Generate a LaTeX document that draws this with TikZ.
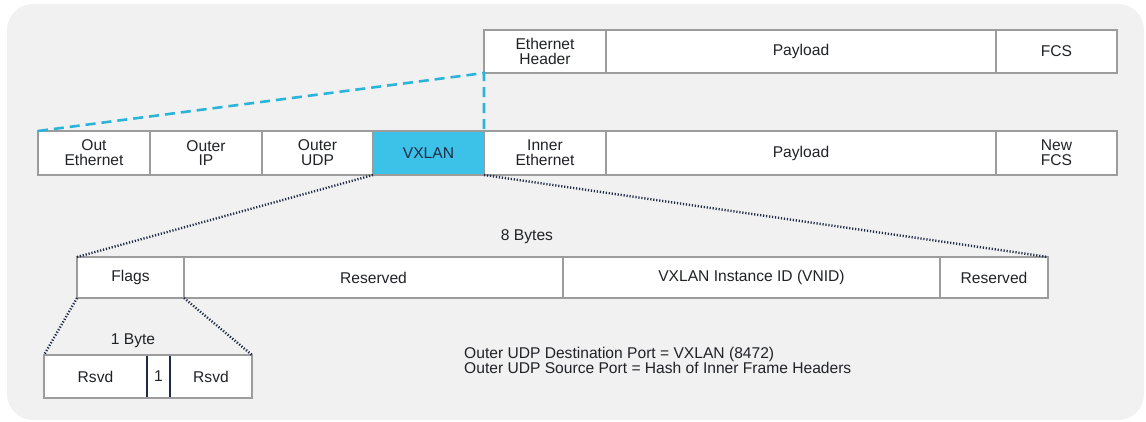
\documentclass[tikz,border=0pt]{standalone}
\usepackage{fontspec}
\setmainfont{Liberation Sans}
\definecolor{bgc}{HTML}{F1F1F1}
\definecolor{edgec}{HTML}{9C9C9C}
\definecolor{cyanc}{HTML}{3CC2E8}
\definecolor{dashc}{HTML}{2BB4DA}
\definecolor{navyc}{HTML}{1E2B45}
\definecolor{txtc}{HTML}{202226}
\begin{document}
\begin{tikzpicture}[x=1pt,y=-1pt,
  field/.style={draw=edgec, line width=2.8pt, fill=white, inner sep=0pt, outer sep=0pt,
    align=center, text=txtc, font=\fontsize{15.6}{14.8}\selectfont},
  hl/.style={field, fill=cyanc, text=navyc},
  lbl/.style={inner sep=0pt, text=txtc, font=\fontsize{15.6}{15}\selectfont},
  cyandash/.style={draw=dashc, line width=2.6pt, dash pattern=on 10pt off 6pt},
  navydot/.style={draw=navyc, line width=2.4pt, dash pattern=on 1.2pt off 1.8pt}]
\useasboundingbox (0,0) rectangle (1146,421);
\fill[bgc, rounded corners=26pt] (7,4) rectangle (1144,420);
% top row
\node[field, minimum width=122pt, minimum height=43pt] (eh) at (545,51.5) {Ethernet\\Header};
\node[field, minimum width=390pt, minimum height=43pt] (pay1) at (801,51.5) {Payload};
\node[field, minimum width=121pt, minimum height=43pt] (fcs) at (1056.5,51.5) {FCS};
% middle row
\node[field, minimum width=112pt, minimum height=44pt] (oeth) at (94,153) {Out\\Ethernet};
\node[field, minimum width=112pt, minimum height=44pt] (oip) at (206,153) {Outer\\IP};
\node[field, minimum width=111pt, minimum height=44pt] (oudp) at (317.5,153) {Outer\\UDP};
\node[hl, minimum width=111pt, minimum height=44pt] (vx) at (428.5,153) {VXLAN};
\node[field, minimum width=122pt, minimum height=44pt] (ieth) at (545,153) {Inner\\Ethernet};
\node[field, minimum width=390pt, minimum height=44pt] (pay2) at (801,153) {Payload};
\node[field, minimum width=121pt, minimum height=44pt] (nfcs) at (1056.5,153) {New\\FCS};
% VXLAN header row
\node[field, minimum width=107pt, minimum height=41pt] (flags) at (130.5,277.5) {Flags};
\node[field, minimum width=379pt, minimum height=41pt] (res1) at (373.5,277.5) {Reserved};
\node[field, minimum width=377pt, minimum height=41pt] (vnid) at (751.5,277.5) {VXLAN Instance ID (VNID)};
\node[field, minimum width=108pt, minimum height=41pt] (res2) at (994,277.5) {Reserved};
% flags row
\node[field, minimum width=103pt, minimum height=43pt] (rs1) at (95.5,376.5) {Rsvd};
\node[field, minimum width=23pt, minimum height=43pt] (one) at (158.5,376.5) {1};
\node[field, minimum width=82pt, minimum height=43pt] (rs2) at (211,376.5) {Rsvd};
\draw[navyc, line width=2pt] ([yshift=-1.4pt]one.north west) -- ([yshift=1.4pt]one.south west);
\draw[navyc, line width=2pt] ([yshift=-1.4pt]one.north east) -- ([yshift=1.4pt]one.south east);
% labels
\node[lbl] (eight) at (527,237) {8 Bytes};
\node[lbl] (onebyte) at (133,341) {1 Byte};
\node[lbl, anchor=west, align=left] (note) at (464,360.5) {Outer UDP Destination Port = VXLAN (8472)\\Outer UDP Source Port = Hash of Inner Frame Headers};
% connectors
\draw[cyandash] (oeth.north west) -- (eh.south west) -- (ieth.north west);
\draw[navydot] (vx.south west) -- (flags.north west);
\draw[navydot] (vx.south east) -- (res2.north east);
\draw[navydot] (flags.south west) -- (rs1.north west);
\draw[navydot] (flags.south east) -- (rs2.north east);
\end{tikzpicture}
\end{document}
